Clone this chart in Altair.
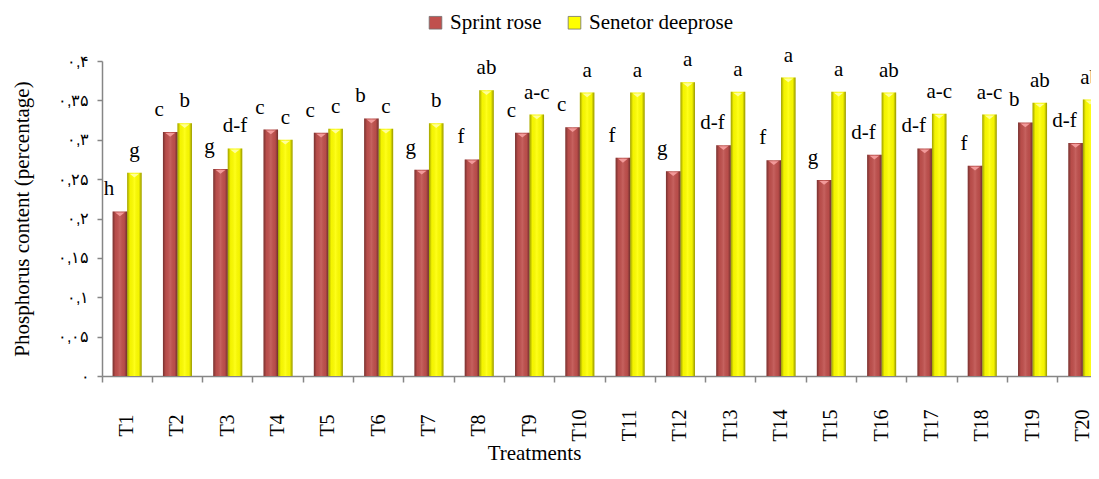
import altair as alt
import pandas as pd

treatments = [f"T{i}" for i in range(1, 21)]
series = ["Sprint rose", "Senetor deeprose"]
sprint_rose = [0.209, 0.310, 0.263, 0.313, 0.309, 0.327, 0.262, 0.275, 0.309, 0.316,
               0.277, 0.260, 0.293, 0.274, 0.249, 0.281, 0.289, 0.267, 0.322, 0.296]
senetor_deeprose = [0.258, 0.321, 0.289, 0.300, 0.314, 0.314, 0.321, 0.363, 0.332, 0.360,
                    0.360, 0.373, 0.361, 0.379, 0.361, 0.360, 0.333, 0.332, 0.347, 0.351]
sprint_letters = ["h", "c", "g", "c", "c", "b", "g", "f", "c", "c",
                  "f", "g", "d-f", "f", "g", "d-f", "d-f", "f", "b", "d-f"]
senetor_letters = ["g", "b", "d-f", "c", "c", "c", "b", "ab", "a-c", "a",
                   "a", "a", "a", "a", "a", "ab", "a-c", "a-c", "ab", "ab"]
y_ticks = [0, 0.05, 0.1, 0.15, 0.2, 0.25, 0.3, 0.35, 0.4]
y_tick_labels = ["\u06f0", "\u06f0,\u06f0\u06f5", "\u06f0,\u06f1", "\u06f0,\u06f1\u06f5",
                 "\u06f0,\u06f2", "\u06f0,\u06f2\u06f5", "\u06f0,\u06f3", "\u06f0,\u06f3\u06f5",
                 "\u06f0,\u06f4"]

rows = []
for i, t in enumerate(treatments):
    rows.append({"treatment": t, "series": series[0], "value": sprint_rose[i], "letter": sprint_letters[i]})
    rows.append({"treatment": t, "series": series[1], "value": senetor_deeprose[i], "letter": senetor_letters[i]})
df = pd.DataFrame(rows)

FONT = "Liberation Serif"
GREY = "#868686"
label_arr = "[" + ",".join("'" + s + "'" for s in y_tick_labels) + "]"

x_scale = alt.Scale(domain=treatments, paddingInner=0, paddingOuter=0)
xo_scale = alt.Scale(domain=series, paddingInner=0, paddingOuter=0.734)
y_scale = alt.Scale(domain=[0, 0.4], nice=False, zero=True)

x_enc = alt.X(
    "treatment:N", sort=treatments, scale=x_scale,
    axis=alt.Axis(
        title="Treatments", titleFont=FONT, titleFontSize=21, titleFontWeight="normal",
        titleColor="black", titleX=432, titleY=83, titleBaseline="alphabetic", titleAlign="center",
        labelFont=FONT, labelFontSize=20, labelColor="black", labelAngle=-90,
        labelAlign="center", labelBaseline="middle", labelPadding=43,
        bandPosition=0, tickSize=6, tickColor=GREY, domainColor=GREY, domainWidth=1.5,
        tickWidth=1.5, labelOverlap=False, labelBound=False, labelFlush=False, grid=False,
    ),
)
xo_enc = alt.XOffset("series:N", sort=series, scale=xo_scale)
y_enc = alt.Y(
    "value:Q", scale=y_scale,
    axis=alt.Axis(
        title="Phosphorus content (percentage)", titleFont=FONT, titleFontSize=21,
        titleFontWeight="normal", titleColor="black", titleX=-80, titleY=157.5,
        titleBaseline="middle", titleAlign="center", titleAngle=-90,
        values=y_ticks, labelExpr=label_arr + "[round(datum.value*20)]",
        labelFontSize=16, labelColor="black", labelPadding=8, tickSize=5, tickColor=GREY,
        tickWidth=1.5, domainColor=GREY, domainWidth=1.5, grid=False,
        labelOverlap=False, labelBound=False, labelFlush=False,
    ),
)

base = alt.Chart(df)

bars = base.mark_bar().encode(
    x=x_enc, xOffset=xo_enc, y=y_enc,
    color=alt.Color(
        "series:N", sort=series,
        scale=alt.Scale(domain=series, range=["#C0504D", "#FFFF00"]),
        legend=alt.Legend(
            title=None, orient="none", direction="horizontal", legendX=323, legendY=-49,
            labelFont=FONT, labelFontSize=21, labelColor="black", symbolType="square",
            symbolSize=160, symbolStrokeColor="#707070", symbolStrokeWidth=0.8,
            columnPadding=22, labelOffset=4, padding=0,
        ),
    ),
)

shade = base.mark_bar(
    fill=alt.Gradient(
        gradient="linear", x1=0, x2=1, y1=0, y2=0,
        stops=[
            alt.GradientStop(offset=0, color="rgba(0,0,0,0.38)"),
            alt.GradientStop(offset=0.2, color="rgba(0,0,0,0.04)"),
            alt.GradientStop(offset=0.5, color="rgba(255,255,255,0.10)"),
            alt.GradientStop(offset=0.8, color="rgba(0,0,0,0.04)"),
            alt.GradientStop(offset=1, color="rgba(0,0,0,0.42)"),
        ],
    )
).encode(x=x_enc, xOffset=xo_enc, y=y_enc)

tri_path = "M-1,0L1,0L0,0.8Z"
tri_red = base.transform_filter(alt.datum.series == series[0]).mark_point(
    shape=tri_path, filled=True, color="#F29A9A", size=90, opacity=1, yOffset=1
).encode(x=x_enc, xOffset=xo_enc, y=y_enc)
tri_yel = base.transform_filter(alt.datum.series == series[1]).mark_point(
    shape=tri_path, filled=True, color="#FFFF99", size=90, opacity=1, yOffset=1
).encode(x=x_enc, xOffset=xo_enc, y=y_enc)

txt_red = base.transform_filter(alt.datum.series == series[0]).mark_text(
    font=FONT, fontSize=21, color="black", baseline="alphabetic", dy=-16, dx=-11
).encode(x=x_enc, xOffset=xo_enc, y=y_enc, text="letter:N")
txt_yel = base.transform_filter(alt.datum.series == series[1]).mark_text(
    font=FONT, fontSize=21, color="black", baseline="alphabetic", dy=-16
).encode(x=x_enc, xOffset=xo_enc, y=y_enc, text="letter:N")

chart = alt.layer(bars, shade, tri_red, tri_yel, txt_red, txt_yel).properties(
    width=1006, height=315,
    autosize=alt.AutoSizeParams(type="none"),
    padding={"left": 94, "top": 53, "right": -17, "bottom": 87},
).configure_view(strokeWidth=0)

chart.save("out.html", embed_options={"renderer": "svg", "actions": False})
